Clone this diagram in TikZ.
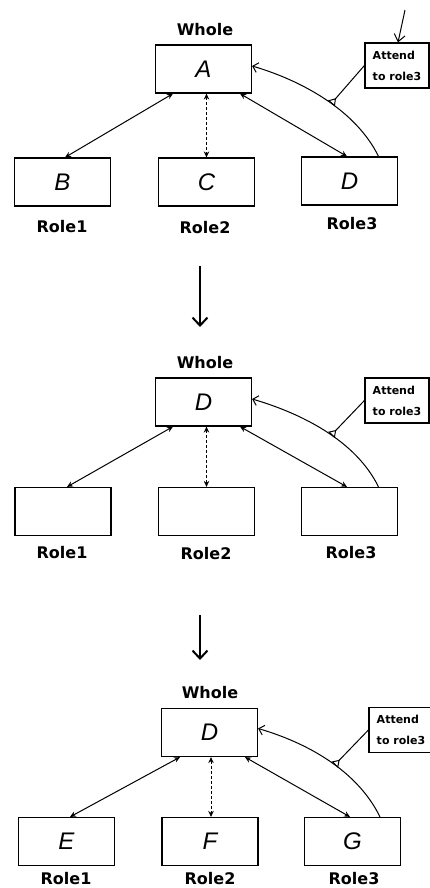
\documentclass[tikz,border=0pt]{standalone}
\usepackage{fontspec}
\setmainfont{DejaVu Sans}
\newfontfamily\handfont{Liberation Sans}
\usetikzlibrary{arrows.meta}

\begin{document}
\begin{tikzpicture}[x=1pt, y=-1pt,
    box/.style={draw, line width=1.2pt, minimum width=96pt, minimum height=48pt, inner sep=0pt,
        font=\handfont\itshape\fontsize{24}{24}\selectfont},
    attbox/.style={draw, line width=1.2pt, minimum width=64pt, minimum height=45pt, inner sep=0pt,
        align=left, font=\bfseries\fontsize{11}{21}\selectfont},
    tag/.style={font=\bfseries\fontsize{16}{16}\selectfont},
    link/.style={line width=1pt, {Stealth[length=6pt,width=5.5pt]}-{Stealth[length=6pt,width=5.5pt]}},
    focus/.style={line width=1pt, -{Straight Barb[length=5pt,width=10pt]}},
    gate/.style={line width=1pt, -{Triangle[open,reversed,length=7pt,width=9pt]}},
    cue/.style={line width=1pt, -{Straight Barb[length=7pt,width=11pt]}},
    nextarrow/.style={line width=2pt, -{Straight Barb[length=8pt,width=15pt,line width=2pt]}}]
    \useasboundingbox (0,0) rectangle (430,888);

    % Draw the first whole with roles B, C, D
    \node[tag] (whole1tag) at (205,30) {Whole};
    \node[box] (whole1) at (203.5,69) {A};
    \node[box] (role1a) at (62.5,182) {B};
    \node[box] (role1b) at (206.5,182) {C};
    \node[box] (role1c) at (349.5,181) {D};
    \node[tag] (tag1a) at (62,227) {Role1};
    \node[tag] (tag1b) at (205,228) {Role2};
    \node[tag] (tag1c) at (352,224) {Role3};
    \node[attbox] (att1) at (397,65.5) {Attend\\to role3};

    % Draw the links and the attention on role3
    \draw[link] ([xshift=-30.5pt]whole1.south) -- ([xshift=2.5pt]role1a.north);
    \draw[link, dash pattern=on 3pt off 2pt] ([xshift=3pt]whole1.south) -- (role1b.north);
    \draw[link] ([xshift=36.5pt]whole1.south) -- ([xshift=-2.5pt]role1c.north);
    \draw[focus] ([xshift=29pt]role1c.north) .. controls +(-23,-47) and +(48,14) .. coordinate[pos=0.45] (mid1) ([yshift=3pt]whole1.east);
    \draw[gate] (att1.west) -- (mid1);
    \coordinate (in1) at (405,10);
    \draw[cue] (in1) -- ([xshift=1pt]att1.north);

    % Draw the step to the second state
    \coordinate (gap1) at (200,266);
    \coordinate (gap1end) at (200,327);
    \draw[nextarrow] (gap1) -- (gap1end);

    % Draw the second whole, D moved up
    \node[tag] (whole2tag) at (205,363) {Whole};
    \node[box] (whole2) at (203.5,402) {D};
    \node[box] (role2a) at (63,511.5) {};
    \node[box] (role2b) at (206.5,511.5) {};
    \node[box] (role2c) at (349.5,511.5) {};
    \node[tag] (tag2a) at (62,553) {Role1};
    \node[tag] (tag2b) at (206,554) {Role2};
    \node[tag] (tag2c) at (351,553) {Role3};
    \node[attbox] (att2) at (397,400.5) {Attend\\to role3};

    % Draw the links and the attention on role3
    \draw[link] ([xshift=-30.5pt]whole2.south) -- ([xshift=4pt]role2a.north);
    \draw[link, dash pattern=on 3pt off 2pt] ([xshift=3pt]whole2.south) -- (role2b.north);
    \draw[link] ([xshift=36.5pt]whole2.south) -- ([xshift=-2.5pt]role2c.north);
    \draw[focus] ([xshift=29pt]role2c.north) .. controls +(-23,-47) and +(48,14) .. coordinate[pos=0.45] (mid2) ([yshift=3pt]whole2.east);
    \draw[gate] (att2.west) -- (mid2);

    % Draw the step to the third state
    \coordinate (gap2) at (200,615);
    \coordinate (gap2end) at (200,660);
    \draw[nextarrow] (gap2) -- (gap2end);

    % Draw the third whole with new roles E, F, G
    \node[tag] (whole3tag) at (210,693) {Whole};
    \node[box] (whole3) at (209.5,732.5) {D};
    \node[box] (role3a) at (66.5,841.5) {E};
    \node[box] (role3b) at (210,841.5) {F};
    \node[box] (role3c) at (352.5,841.5) {G};
    \node[tag] (tag3a) at (66,879) {Role1};
    \node[tag] (tag3b) at (210,879) {Role2};
    \node[tag] (tag3c) at (354,879) {Role3};
    \node[attbox] (att3) at (401,730) {Attend\\to role3};

    % Draw the links and the attention on role3
    \draw[link] ([xshift=-29.5pt]whole3.south) -- ([xshift=3.5pt]role3a.north);
    \draw[link, dash pattern=on 3pt off 2pt] ([xshift=1.5pt]whole3.south) -- ([xshift=1pt]role3b.north);
    \draw[link] ([xshift=35.5pt]whole3.south) -- ([xshift=-2.5pt]role3c.north);
    \draw[focus] ([xshift=27.5pt]role3c.north) .. controls +(-23,-47) and +(48,14) .. coordinate[pos=0.45] (mid3) ([yshift=4pt]whole3.east);
    \draw[gate] (att3.west) -- (mid3);
\end{tikzpicture}
\end{document}
